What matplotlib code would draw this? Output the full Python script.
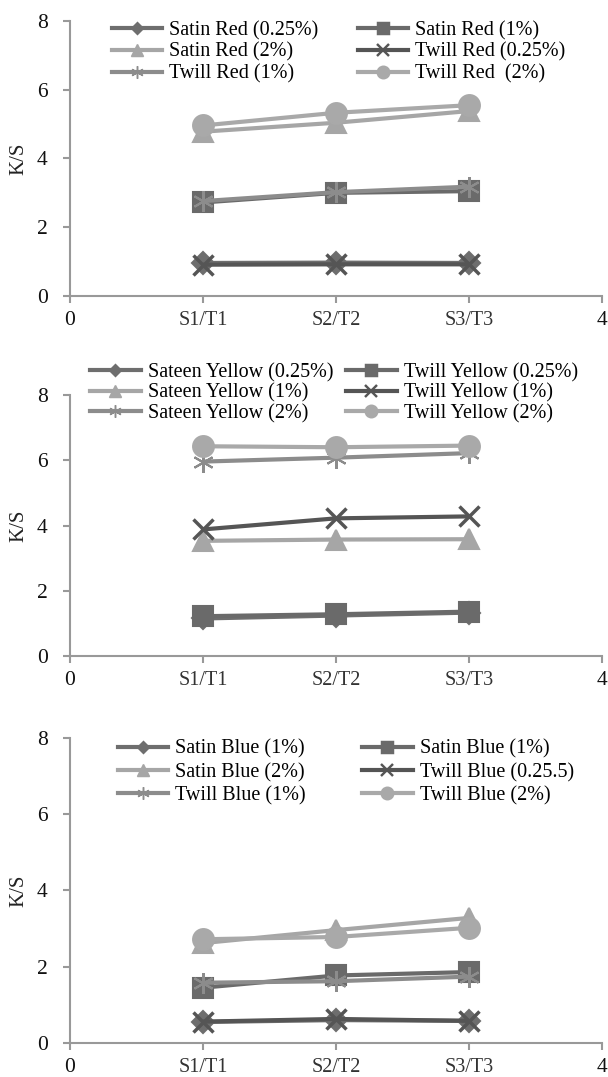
import matplotlib.pyplot as plt
from matplotlib.lines import Line2D

plt.rcParams['font.family'] = ['Liberation Serif', 'DejaVu Serif']

x = [1, 2, 3]
xtick_pos = [0, 1, 2, 3, 4]
xtick_labels = ['0', 'S1/T1', 'S2/T2', 'S3/T3', '4']

# panel 1 - red
red_labels = ['Satin Red (0.25%)', 'Satin Red (1%)', 'Satin Red (2%)',
              'Twill Red (0.25%)', 'Twill Red (1%)', 'Twill Red  (2%)']
red_values = [
    [0.96, 0.97, 0.96],
    [2.72, 3.0, 3.05],
    [4.78, 5.04, 5.38],
    [0.91, 0.92, 0.92],
    [2.76, 3.02, 3.18],
    [4.96, 5.33, 5.55],
]

# panel 2 - yellow
yellow_labels = ['Sateen Yellow (0.25%)', 'Twill Yellow (0.25%)', 'Sateen Yellow (1%)',
                 'Twill Yellow (1%)', 'Sateen Yellow (2%)', 'Twill Yellow (2%)']
yellow_values = [
    [1.15, 1.24, 1.33],
    [1.22, 1.28, 1.36],
    [3.53, 3.57, 3.58],
    [3.88, 4.22, 4.28],
    [5.96, 6.08, 6.22],
    [6.43, 6.4, 6.45],
]

# panel 3 - blue
blue_labels = ['Satin Blue (1%)', 'Satin Blue (1%)', 'Satin Blue (2%)',
               'Twill Blue (0.25.5)', 'Twill Blue (1%)', 'Twill Blue (2%)']
blue_values = [
    [0.55, 0.6, 0.58],
    [1.45, 1.77, 1.86],
    [2.62, 2.96, 3.28],
    [0.56, 0.63, 0.58],
    [1.58, 1.62, 1.74],
    [2.72, 2.78, 3.02],
]

# colour, marker, size for the 6 series in each panel
styles = [
    ('#6e6e6e', 'D', 11),
    ('#6a6a6a', 's', 15),
    ('#a6a6a6', '^', 14),
    ('#555555', 'x', 14),
    ('#8c8c8c', (6, 2, 0), 15),   # asterisk
    ('#a9a9a9', 'o', 15),
]

fig = plt.figure(figsize=(6.08, 10.77), dpi=100)

# rect, legend anchor, column spacing, label spacing
panels = [
    (red_labels, red_values, [0.1151, 0.7252, 0.875, 0.2553], (0.079, 1.0), 1.95, 0.12),
    (yellow_labels, yellow_values, [0.1151, 0.3909, 0.875, 0.2423], (0.038, 1.123), 0.65, 0.07),
    (blue_labels, blue_values, [0.1151, 0.0316, 0.875, 0.2832], (0.090, 0.995), 2.8, 0.2),
]

order = [0, 2, 4, 1, 3, 5]  # legend filled column-wise, reference reads row-wise

for labels, values, rect, anchor, colsp, labsp in panels:
    ax = fig.add_axes(rect)
    handles = []
    for lab, vals, (c, m, ms) in zip(labels, values, styles):
        mew = 2.5 if m == 'x' else 1.5
        ax.plot(x, vals, color=c, lw=3, marker=m, ms=ms, mew=mew,
                mec=c, mfc=c, solid_capstyle='butt')
        handles.append(Line2D([], [], color=c, lw=3, marker=m, ms=ms * 0.6,
                              mew=mew * 0.7, mec=c, mfc=c))
    ax.set_xlim(0, 4)
    ax.set_ylim(0, 8)
    ax.set_xticks(xtick_pos)
    ax.set_xticklabels(xtick_labels)
    ax.set_yticks([0, 2, 4, 6, 8])
    ax.set_ylabel('K/S', fontsize=15, color='#222222', labelpad=6)
    for s in ['top', 'right']:
        ax.spines[s].set_visible(False)
    for s in ['left', 'bottom']:
        ax.spines[s].set_color('#999999')
        ax.spines[s].set_linewidth(1.5)
    ax.tick_params(axis='both', colors='#999999', labelcolor='#111111',
                   labelsize=15.5, length=5, width=1.5)
    ax.tick_params(axis='x', pad=6)
    ax.tick_params(axis='y', pad=11)
    for t in ax.get_xticklabels()[1:4]:
        t.set_color('#333333')
        t.set_fontsize(14.5)
    ax.legend([handles[i] for i in order], [labels[i] for i in order],
              ncol=2, loc='upper left', bbox_to_anchor=anchor,
              frameon=False, fontsize=14.5, handlelength=2.5, handletextpad=0.35,
              columnspacing=colsp, labelspacing=labsp, borderaxespad=0, borderpad=0)

fig.savefig('out.png', dpi=100)
